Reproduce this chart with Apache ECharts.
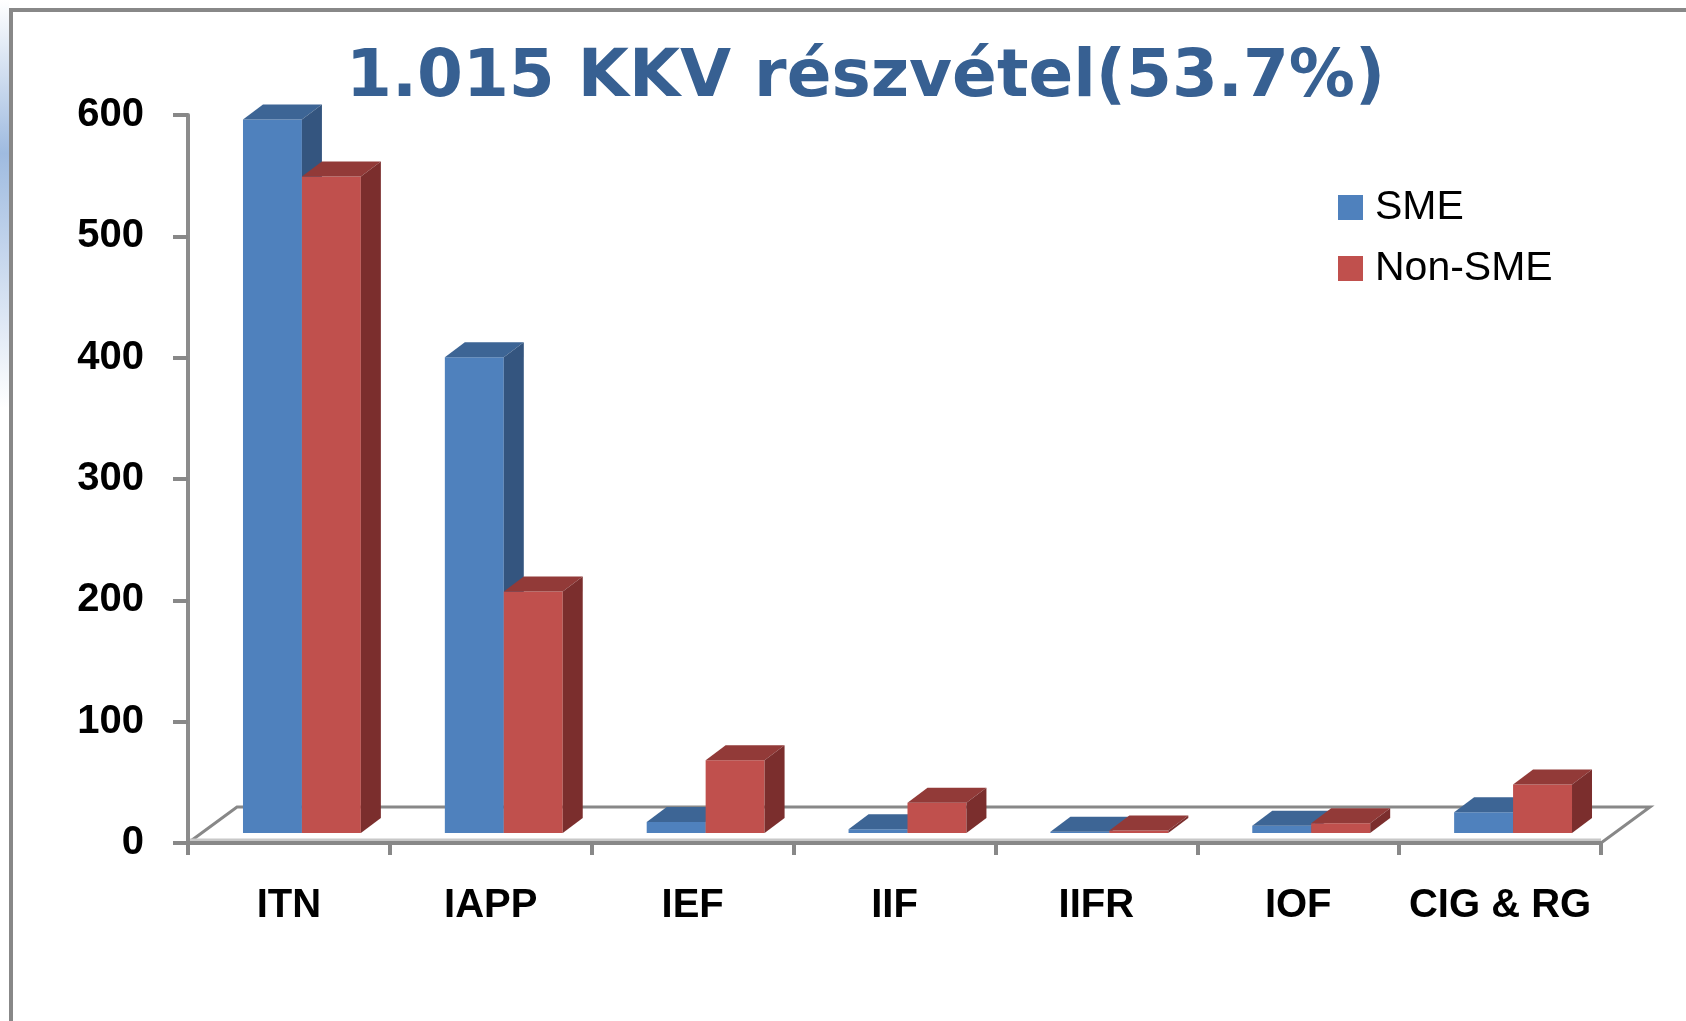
<!DOCTYPE html>
<html>
<head>
<meta charset="utf-8">
<script src="https://cdn.jsdelivr.net/npm/echarts@6/dist/echarts.min.js"></script>
<style>
    html, body { margin: 0; padding: 0; background: #ffffff; }
    #main { width: 1686px; height: 1021px; }
</style>
</head>
<body>
<div id="main"></div>
<script>
// 数据
var categories = ['ITN', 'IAPP', 'IEF', 'IIF', 'IIFR', 'IOF', 'CIG & RG'];
var smeValues = [588, 392, 9, 3, 1, 6, 17];
var nonSmeValues = [541, 199, 60, 25, 2, 8, 40];
var yTicks = [0, 100, 200, 300, 400, 500, 600];

// 布局
var GRID_LEFT = 188, GRID_RIGHT = 85, GRID_TOP = 115, GRID_BOTTOM = 178;
var BAR_RATIO = 0.292;   // 柱宽 / 类目宽
var SHIFT_X = 13, SHIFT_Y = 10;   // 柱子在地板上的深度位置
var DEPTH_X = 20, DEPTH_Y = 15;   // 柱子厚度
var FLOOR_X = 49, FLOOR_Y = 36;   // 地板深度

var faceColors = [
    { front: '#4F81BD', top: '#3D6595', side: '#34557F' },
    { front: '#C0504D', top: '#923A38', side: '#7B2E2D' }
];

function renderBar(params, api) {
    var cat = api.value(0);
    var val = api.value(1);
    var base = api.coord([cat, 0]);
    var top = api.coord([cat, val]);
    var band = api.size([1, 0])[0];
    var w = band * BAR_RATIO;
    var c = faceColors[params.seriesIndex];
    var x0 = base[0] + SHIFT_X - (params.seriesIndex === 0 ? w : 0);
    var x1 = x0 + w;
    var yb = base[1] - SHIFT_Y;
    var yt = top[1] - SHIFT_Y;
    return {
        type: 'group',
        children: [
            {
                type: 'rect',
                shape: { x: x0, y: yt, width: w, height: yb - yt },
                style: { fill: c.front }
            },
            {
                type: 'polygon',
                shape: { points: [[x0, yt], [x1, yt], [x1 + DEPTH_X, yt - DEPTH_Y], [x0 + DEPTH_X, yt - DEPTH_Y]] },
                style: { fill: c.top }
            },
            {
                type: 'polygon',
                shape: { points: [[x1, yt], [x1 + DEPTH_X, yt - DEPTH_Y], [x1 + DEPTH_X, yb - DEPTH_Y], [x1, yb]] },
                style: { fill: c.side }
            }
        ]
    };
}

function toData(values) {
    return values.map(function (v, i) { return [i, v]; });
}

var chartW = 1686, chartH = 1021;
var floorL = GRID_LEFT, floorR = chartW - GRID_RIGHT, floorY = chartH - GRID_BOTTOM;

var myChart = echarts.init(document.getElementById('main'), null, { renderer: 'canvas' });
var option = {
    backgroundColor: '#ffffff',
    animation: false,
    title: {
        text: '1.015 KKV részvétel(53.7%)',
        left: 341,
        top: 41,
        textStyle: {
            fontFamily: 'DejaVu Sans',
            fontWeight: 'bold',
            fontSize: 66,
            color: '#376092'
        }
    },
    legend: {
        orient: 'vertical',
        left: 1333,
        top: 182,
        itemWidth: 25,
        itemHeight: 25,
        itemGap: 20,
        icon: 'rect',
        data: ['SME', 'Non-SME'],
        textStyle: {
            fontFamily: 'Liberation Sans',
            fontSize: 41,
            lineHeight: 40,
            color: '#000000',
            padding: [0, 0, 0, 7]
        }
    },
    graphic: [
        // 边框
        {
            type: 'rect',
            shape: { x: 11, y: 10, width: 1700, height: 1100 },
            style: { fill: 'none', stroke: '#888888', lineWidth: 4 },
            z: 0
        },
        {
            type: 'rect',
            shape: { x: 0, y: 0, width: 9, height: 1021 },
            style: {
                fill: new echarts.graphic.LinearGradient(0, 0, 0, 1, [
                    { offset: 0, color: '#ffffff' },
                    { offset: 0.15, color: '#9fbbe0' },
                    { offset: 0.4, color: '#ffffff' },
                    { offset: 1, color: '#ffffff' }
                ])
            },
            z: 0
        },
        // 地板
        {
            type: 'polygon',
            shape: { points: [[floorL, floorY], [floorL + FLOOR_X, floorY - FLOOR_Y], [floorR + FLOOR_X, floorY - FLOOR_Y], [floorR, floorY]] },
            style: { fill: '#ffffff', stroke: '#888888', lineWidth: 3 },
            z: 1
        },
        {
            type: 'line',
            shape: { x1: floorL, y1: floorY - 3, x2: floorR, y2: floorY - 3 },
            style: { stroke: '#c8c8c8', lineWidth: 3 },
            z: 1
        }
    ],
    grid: {
        left: GRID_LEFT,
        right: GRID_RIGHT,
        top: GRID_TOP,
        bottom: GRID_BOTTOM,
        containLabel: false
    },
    xAxis: {
        type: 'category',
        data: categories,
        axisLine: { show: true, lineStyle: { color: '#888888', width: 4 } },
        axisTick: { show: true, interval: 0, length: 12, lineStyle: { color: '#888888', width: 4 } },
        axisLabel: {
            interval: 0,
            margin: 43,
            fontFamily: 'Liberation Sans',
            fontWeight: 'bold',
            fontSize: 40,
            color: '#000000'
        },
        z: 5
    },
    yAxis: {
        type: 'value',
        min: yTicks[0],
        max: yTicks[yTicks.length - 1],
        interval: 100,
        axisLine: { show: true, lineStyle: { color: '#8c8c8c', width: 4 } },
        axisTick: { show: true, length: 15, lineStyle: { color: '#888888', width: 4 } },
        splitLine: { show: false },
        axisLabel: {
            margin: 44,
            padding: [12, 0, 0, 0],
            fontFamily: 'Liberation Sans',
            fontWeight: 'bold',
            fontSize: 40,
            color: '#000000'
        },
        z: 5
    },
    series: [
        {
            name: 'SME',
            type: 'custom',
            renderItem: renderBar,
            itemStyle: { color: faceColors[0].front },
            encode: { x: 0, y: 1 },
            data: toData(smeValues),
            z: 3
        },
        {
            name: 'Non-SME',
            type: 'custom',
            renderItem: renderBar,
            itemStyle: { color: faceColors[1].front },
            encode: { x: 0, y: 1 },
            data: toData(nonSmeValues),
            z: 4
        }
    ]
};
myChart.setOption(option);
</script>
</body>
</html>
